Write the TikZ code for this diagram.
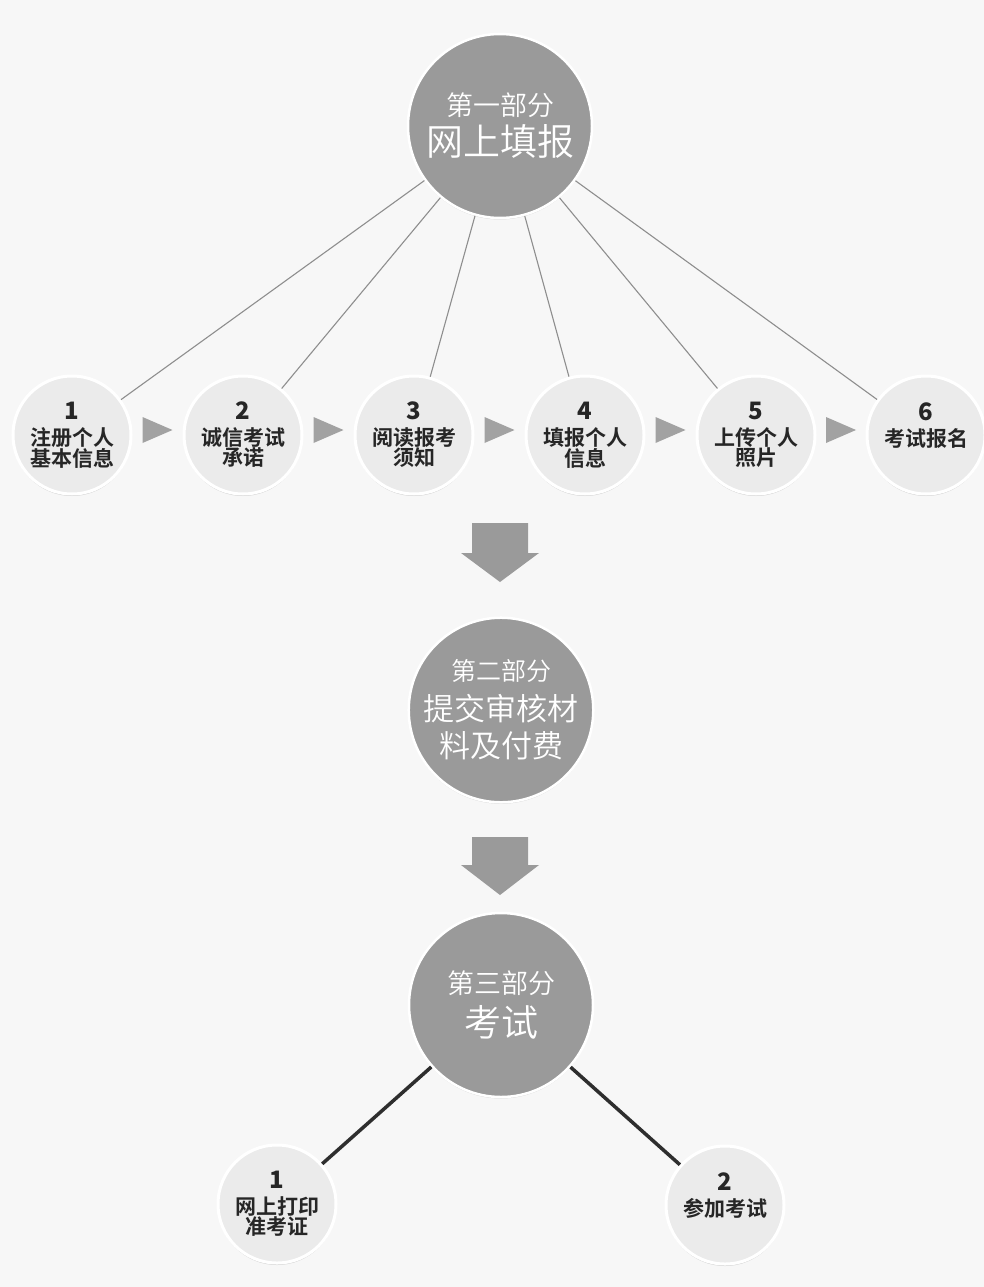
\documentclass[tikz,border=0pt]{standalone}
\usepackage{fontspec}
\newfontfamily\heiti{Noto Sans CJK SC Bold}
\newfontfamily\heavy{Noto Sans CJK SC Black}
\newfontfamily\songti{Noto Sans CJK SC DemiLight}
\usetikzlibrary{calc,shadows}
\definecolor{paper}{HTML}{F7F7F7}
\definecolor{disc}{HTML}{9A9A9A}
\definecolor{pale}{HTML}{EBEBEB}
\definecolor{spokegray}{HTML}{8E8E8E}
\definecolor{tipgray}{HTML}{A2A2A2}
\newcommand{\stepnum}[1]{{\heavy\fontsize{24}{24}\selectfont #1}\\[6pt]}
\begin{document}
\begin{tikzpicture}[x=1pt,y=-1pt,
  partdisc/.style={circle,fill=disc,draw=white,line width=2.5pt,minimum size=184pt,
    inner sep=0pt,align=center,text=white,font=\songti,
    drop shadow={opacity=.3,shadow xshift=0pt,shadow yshift=-1.5pt}},
  stepdisc/.style={circle,fill=pale,draw=white,line width=3pt,minimum size=118pt,
    inner sep=0pt,align=center,text=black!85,font=\heiti\fontsize{21}{20}\selectfont,
    drop shadow={opacity=.3,shadow xshift=0pt,shadow yshift=-2pt}},
  spoke/.style={spokegray,line width=1.1pt},
  bond/.style={black!82,line width=3.5pt},
  bigarrow/.style={fill=disc},
  smallarrow/.style={fill=tipgray}]
  % page:
  \fill[paper] (0,0) rectangle (984,1287);
  \useasboundingbox (0,0) rectangle (984,1287);
  % part one and its six steps:
  \node[partdisc] (top) at (500,126)
    {{\fontsize{27}{30}\selectfont 第一部分}\\[6pt]{\fontsize{37}{38}\selectfont 网上填报}};
  \node[stepdisc] (s1) at (72,435)  {\stepnum{1}注册个人\\基本信息};
  \node[stepdisc] (s2) at (243,435) {\stepnum{2}诚信考试\\承诺};
  \node[stepdisc] (s3) at (414,435) {\stepnum{3}阅读报考\\须知};
  \node[stepdisc] (s4) at (585,435) {\stepnum{4}填报个人\\信息};
  \node[stepdisc] (s5) at (756,435) {\stepnum{5}上传个人\\照片};
  \node[stepdisc] (s6) at (926,435) {\stepnum{6}考试报名\\\mbox{}};
  \foreach \s in {s1,s2,s3,s4,s5,s6}
    \draw[spoke] (top) -- (\s);
  % small arrows between the steps:
  \foreach \a/\b in {s1/s2,s2/s3,s3/s4,s4/s5,s5/s6}
    \fill[smallarrow] ($(\a)!.5!(\b)+(0,-5)$) ++(-15,-13) -- ++(30,13) -- ++(-30,13) -- cycle;
  % part two:
  \coordinate (down1) at (500,523);
  \fill[bigarrow] (down1) ++(-28,0) -- ++(56,0) -- ++(0,30) -- ++(11,0)
    -- ++(-39,29) -- ++(-39,-29) -- ++(11,0) -- cycle;
  \node[partdisc] (mid) at (501,710)
    {{\fontsize{25}{28}\selectfont 第二部分}\\[10pt]{\fontsize{31}{36}\selectfont 提交审核材}\\[8pt]{\fontsize{31}{36}\selectfont 料及付费}};
  % part three and its two steps:
  \coordinate (down2) at (500,837);
  \fill[bigarrow] (down2) ++(-28,0) -- ++(56,0) -- ++(0,28) -- ++(11,0)
    -- ++(-39,30) -- ++(-39,-30) -- ++(11,0) -- cycle;
  \node[partdisc] (low) at (501,1005)
    {{\fontsize{27}{30}\selectfont 第三部分}\\[8pt]{\fontsize{37}{38}\selectfont 考试}};
  \node[stepdisc] (b1) at (277,1204) {\stepnum{1}网上打印\\准考证};
  \node[stepdisc] (b2) at (725,1205) {\stepnum{2}参加考试\\\mbox{}};
  \draw[bond] (low) -- (b1);
  \draw[bond] (low) -- (b2);
\end{tikzpicture}
\end{document}
